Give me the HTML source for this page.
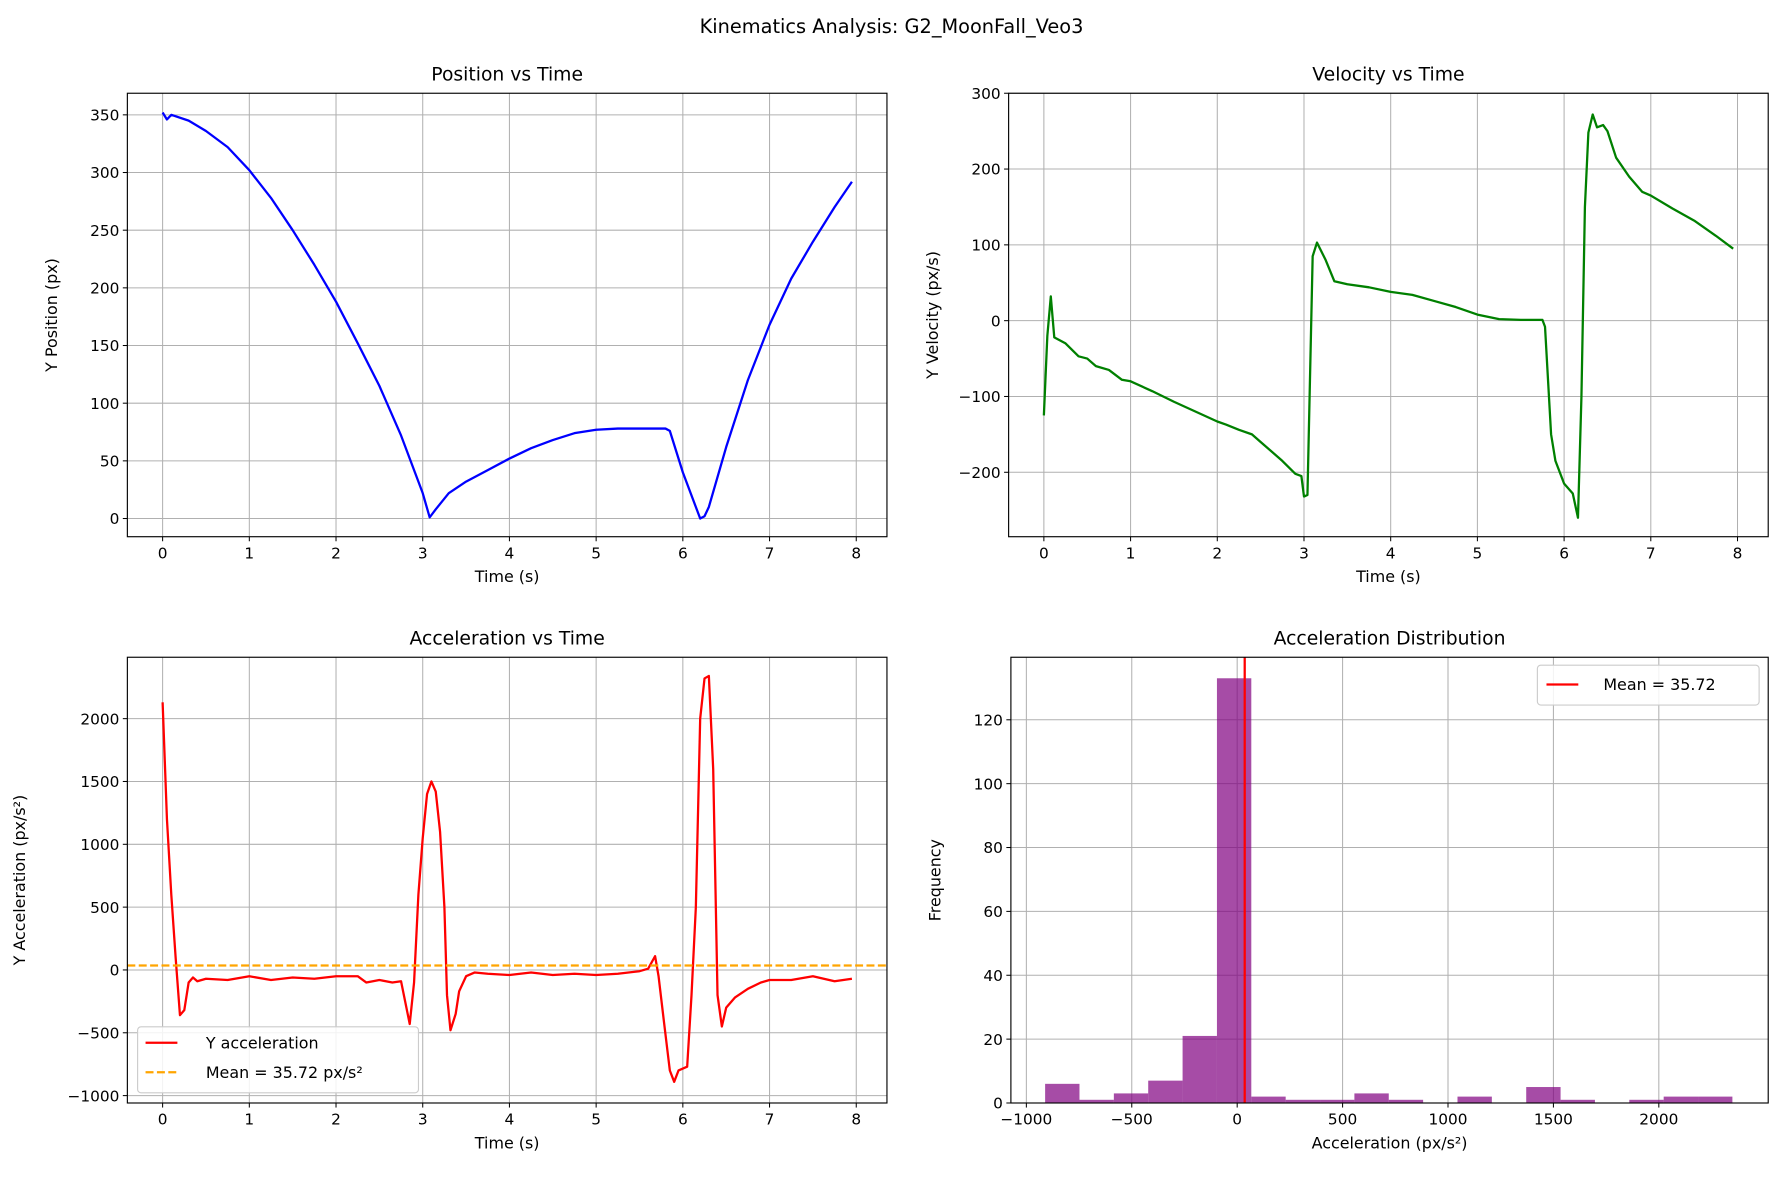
<!DOCTYPE html>
<html><head><meta charset="utf-8"><style>
html,body{margin:0;padding:0;background:#fff;}
svg{display:block;font-family:"DejaVu Sans","Liberation Sans",sans-serif;}
</style></head><body>
<svg id="fig" width="1783" height="1181" viewBox="0 0 1568 1038.6" xmlns="http://www.w3.org/2000/svg">
<rect width="1568" height="1038.6" fill="#fff"/>
<text x="784" y="29" text-anchor="middle" font-size="17">Kinematics Analysis: G2_MoonFall_Veo3</text>
</svg>
<script>
// ---- data ----
const posT=[0,0.05,0.1,0.3,0.5,0.75,1,1.25,1.5,1.75,2,2.25,2.5,2.75,3,3.08,3.15,3.3,3.5,3.75,4,4.25,4.5,4.75,5,5.25,5.5,5.8,5.85,6,6.2,6.25,6.3,6.5,6.75,7,7.25,7.5,7.75,7.95];
const posY=[352,346,350,345,336,322,302,278,250,220,188,152,115,72,22,1,8,22,32,42,52,61,68,74,77,78,78,78,76,40,0,2,10,62,120,168,208,240,270,292];
const velT=[0,0.04,0.08,0.12,0.25,0.4,0.5,0.6,0.75,0.9,1,1.25,1.5,1.75,2,2.1,2.25,2.4,2.5,2.75,2.9,2.97,3.0,3.04,3.1,3.15,3.25,3.35,3.5,3.75,4,4.25,4.5,4.75,5,5.25,5.5,5.75,5.78,5.85,5.9,6.0,6.1,6.16,6.2,6.24,6.28,6.33,6.38,6.45,6.5,6.6,6.75,6.9,7,7.25,7.5,7.75,7.95];
const velY=[-125,-20,32,-22,-30,-47,-50,-60,-65,-78,-80,-93,-107,-120,-133,-137,-144,-150,-160,-185,-202,-205,-232,-230,85,103,80,52,48,44,38,34,26,18,8,2,1,1,-8,-150,-185,-215,-228,-260,-100,150,248,272,255,258,250,215,190,170,165,148,132,112,95];
const accT=[0,0.05,0.1,0.15,0.2,0.25,0.3,0.35,0.4,0.5,0.75,1,1.25,1.5,1.75,2,2.25,2.35,2.5,2.65,2.75,2.85,2.9,2.95,3,3.05,3.1,3.15,3.2,3.25,3.28,3.32,3.38,3.42,3.5,3.6,3.75,4,4.25,4.5,4.75,5,5.25,5.5,5.6,5.68,5.72,5.78,5.85,5.9,5.95,6.05,6.1,6.15,6.2,6.25,6.3,6.35,6.4,6.45,6.5,6.6,6.75,6.9,7,7.25,7.5,7.75,7.95];
const accY=[2130,1200,600,100,-360,-320,-100,-60,-90,-70,-80,-50,-80,-60,-70,-50,-50,-100,-80,-100,-90,-430,-100,600,1050,1400,1500,1420,1100,500,-200,-480,-350,-170,-50,-20,-30,-40,-20,-40,-30,-40,-30,-10,10,110,-50,-400,-800,-890,-800,-770,-200,500,2000,2320,2340,1600,-200,-450,-300,-220,-150,-100,-80,-80,-50,-90,-70];
const accMean=35.72;
const histEdges0=-911, histBinW=163;
const histCounts=[6,1,3,7,21,133,2,1,1,3,1,0,2,0,5,1,0,1,2,2];
const tTicks=[0,1,2,3,4,5,6,7,8];
const posTicks=[0,50,100,150,200,250,300,350];
const velTicks=[-200,-100,0,100,200,300];
const accTicks=[-1000,-500,0,500,1000,1500,2000];
const histXTicks=[-1000,-500,0,500,1000,1500,2000];
const histYTicks=[0,20,40,60,80,100,120];

const NS="http://www.w3.org/2000/svg";
const svg=document.getElementById('fig');
function el(tag,attrs,parent){const e=document.createElementNS(NS,tag);for(const k in attrs)e.setAttribute(k,attrs[k]);(parent||svg).appendChild(e);return e;}
function lin(d0,d1,r0,r1){return v=>r0+(v-d0)*(r1-r0)/(d1-d0);}
function fmt(v){return v<0?'\u2212'+(-v):''+v;}

function axes(name,box,sx,sy,xt,yt,title,xl,yl){
  const g=el('g',{});
  
  
  for(const t of xt){const x=sx(t);el('line',{x1:x,x2:x,y1:box.t,y2:box.b,stroke:'#b0b0b0','stroke-width':0.9},g);
    el('line',{x1:x,x2:x,y1:box.b,y2:box.b+4,stroke:'#000','stroke-width':0.9},g);
    const tx=el('text',{x:x,y:box.b+19,'text-anchor':'middle','font-size':13.5},g);tx.textContent=fmt(t);
    
    }
  for(const t of yt){const y=sy(t);el('line',{x1:box.l,x2:box.r,y1:y,y2:y,stroke:'#b0b0b0','stroke-width':0.9},g);
    el('line',{x1:box.l-4,x2:box.l,y1:y,y2:y,stroke:'#000','stroke-width':0.9},g);
    const ty=el('text',{x:box.l-7,y:y+5,'text-anchor':'end','font-size':13.5},g);ty.textContent=fmt(t);
    
    }
  const tt=el('text',{x:(box.l+box.r)/2,y:box.t-11,'text-anchor':'middle','font-size':16.5},g);tt.textContent=title;
  
  
  const xa=el('text',{x:(box.l+box.r)/2,y:box.b+40,'text-anchor':'middle','font-size':14},g);xa.textContent=xl;
  
  
  const cy=(box.t+box.b)/2, cx=box.l-(yl.length>20?90:62);
  const ya=el('text',{x:cx,y:cy,'text-anchor':'middle','font-size':14,transform:`rotate(-90 ${cx} ${cy})`},g);ya.textContent=yl;
  
  
  return g;
}
function frame(box,g){el('rect',{x:box.l,y:box.t,width:box.r-box.l,height:box.b-box.t,fill:'none',stroke:'#000','stroke-width':1},g);}
function clipFor(id,box){const c=el('clipPath',{id:id});el('rect',{x:box.l,y:box.t,width:box.r-box.l,height:box.b-box.t},c);}
function line(xs,ys,sx,sy,color,g,name,clip){const p=xs.map((t,i)=>sx(t).toFixed(2)+','+sy(ys[i]).toFixed(2)).join(' ');
  const pl=el('polyline',{points:p,fill:'none',stroke:color,'stroke-width':2,'stroke-linejoin':'round','clip-path':'url(#'+clip+')'},g);
  
  }

// Position
let b1={l:112,r:780,t:82,b:472};
let sx1=lin(0,8,143,753), sy1=lin(0,350,456,101);
clipFor('c1',b1);
let g1=axes('position-plot',b1,sx1,sy1,tTicks,posTicks,'Position vs Time','Time (s)','Y Position (px)');
line(posT,posY,sx1,sy1,'#0000ff',g1,'position-line','c1');frame(b1,g1);

// Velocity
let b2={l:887,r:1555,t:82,b:472};
let sx2=lin(0,8,918,1528), sy2=lin(0,300,282,82);
clipFor('c2',b2);
let g2=axes('velocity-plot',b2,sx2,sy2,tTicks,velTicks,'Velocity vs Time','Time (s)','Y Velocity (px/s)');
line(velT,velY,sx2,sy2,'#008000',g2,'velocity-line','c2');frame(b2,g2);

// Acceleration
let b3={l:112,r:780,t:578,b:970};
let sx3=lin(0,8,143,753), sy3=lin(0,2000,853,632);
clipFor('c3',b3);
let g3=axes('acceleration-plot',b3,sx3,sy3,tTicks,accTicks,'Acceleration vs Time','Time (s)','Y Acceleration (px/s\u00b2)');
line(accT,accY,sx3,sy3,'#ff0000',g3,'acceleration-line','c3');
const ml=el('line',{x1:b3.l,x2:b3.r,y1:sy3(accMean),y2:sy3(accMean),stroke:'#ffa500','stroke-width':2,'stroke-dasharray':'7,3'},g3);


frame(b3,g3);
const lg=el('g',{},g3);


el('rect',{x:121,y:903,width:247,height:58,rx:3,fill:'#fff','fill-opacity':0.85,stroke:'#ccc'},lg);
el('line',{x1:128,x2:156,y1:917,y2:917,stroke:'#ff0000','stroke-width':2},lg);
el('line',{x1:128,x2:156,y1:943,y2:943,stroke:'#ffa500','stroke-width':2,'stroke-dasharray':'7,3'},lg);
let lt=el('text',{x:181,y:922,'font-size':14},lg);lt.textContent='Y acceleration';
lt=el('text',{x:181,y:948,'font-size':14},lg);lt.textContent='Mean = 35.72 px/s\u00b2';

// Histogram
let b4={l:889,r:1555,t:578,b:970};
let sx4=lin(0,500,1088,1180.7), sy4=lin(0,120,970,633);
clipFor('c4',b4);
let g4=axes('histogram-plot',b4,sx4,sy4,histXTicks,histYTicks,'Acceleration Distribution','Acceleration (px/s\u00b2)','Frequency');
histCounts.forEach((c,i)=>{ if(!c) return;
  const x0=sx4(histEdges0+i*histBinW), x1=sx4(histEdges0+(i+1)*histBinW);
  const r=el('rect',{x:x0,y:sy4(c),width:x1-x0,height:sy4(0)-sy4(c),fill:'#800080','fill-opacity':0.7},g4);
  
  
});
const mv=el('line',{x1:sx4(accMean),x2:sx4(accMean),y1:b4.t,y2:b4.b,stroke:'#ff0000','stroke-width':2},g4);


frame(b4,g4);
const lg2=el('g',{},g4);


el('rect',{x:1352,y:585,width:195,height:35,rx:3,fill:'#fff','fill-opacity':0.85,stroke:'#ccc'},lg2);
el('line',{x1:1360,x2:1388,y1:602,y2:602,stroke:'#ff0000','stroke-width':2},lg2);
lt=el('text',{x:1410,y:607,'font-size':14},lg2);lt.textContent='Mean = 35.72';
</script>
</body></html>
